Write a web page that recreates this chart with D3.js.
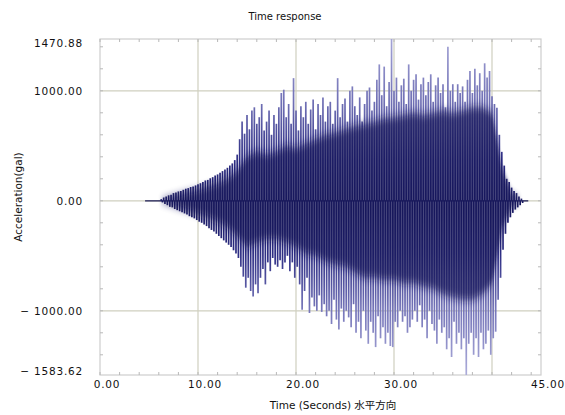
<!DOCTYPE html>
<html>
<head>
<meta charset="utf-8">
<script src="https://cdn.jsdelivr.net/npm/d3@7"></script>
<style>
  body { margin: 0; background: #fff; }
  text { font-family: "DejaVu Sans", sans-serif; fill: #111; }
</style>
</head>
<body>
<div id="chart"></div>
<script>
// time step of the peak samples (s) and first sample time
var peakStart = 6.25;
var peakStep = 0.25;

// positive peaks, one per 0.25 s from 6.25 s
var upPeaks = [
  15, 30, 40, 50,   55, 70, 75, 85,   90, 100, 110, 115,   125, 130, 140, 150,
  160, 170, 185, 190,   205, 215, 230, 240,   255, 270, 285, 300,   320, 340, 370, 420,
  560, 720, 610, 780,   650, 820, 850, 700,   760, 880, 640, 720,   820, 600, 780, 700,
  850, 980, 1010, 760,   880, 700, 1115, 820,   640, 860, 760, 900,   700, 830, 920, 650,
  880, 780, 940, 720,   860, 900, 700, 820,   1115, 760, 880, 930,   720, 1000, 1040, 860,
  780, 940, 720, 880,   1000, 1030, 820, 900,   1100, 1240, 960, 1220,   860, 1080, 1470.88, 1000,
  1120, 900, 1050, 1110,   880, 1240, 1000, 1100,   1150, 920, 1060, 1120,   960, 1080, 1150, 900,
  1050, 1120, 980, 1060,   850, 1400, 1000, 1060,   900, 1060, 980, 1040,   900, 1100, 1180, 980,
  1200, 1050, 1160, 1000,   1250, 1120, 1180, 950,   880, 845, 600, 445,   320, 200, 170, 120,
  90, 70, 40, 20
];

// negative peaks, half a step after each positive one
var downPeaks = [
  -15, -30, -40, -55,   -60, -75, -85, -95,   -105, -115, -125, -140,   -150, -160, -175, -190,
  -200, -215, -230, -250,   -265, -280, -300, -320,   -340, -360, -380, -400,   -420, -450, -480, -520,
  -600, -690, -790, -700,   -820, -870, -760, -840,   -700, -620, -760, -560,   -640, -520, -580, -600,
  -540, -620, -560, -500,   -640, -560, -700, -600,   -760, -990, -820, -700,   -1020, -880, -960, -1000,
  -860, -1010, -940, -1050,   -1000, -1120, -900, -1080,   -1170, -980, -1100, -1000,   -1060, -1150, -940, -1200,
  -1100, -1250, -1000, -1180,   -1300, -1100, -1200, -1330,   -1050, -1250, -1150, -1300,   -1200, -1320, -1330, -1100,
  -1150, -1000, -1100, -1050,   -1200, -1150, -1080, -1000,   -1100, -950, -1150, -1080,   -1250, -1000, -1120, -1180,
  -1300, -1080, -1200, -1150,   -1350, -1250, -1420, -1100,   -1300, -1200, -1350, -1250,   -1583.62, -1300, -1200, -1400,
  -1250, -1420, -1200, -1350,   -1300, -1180, -1400, -1250,   -1190, -900, -700, -445,   -300, -200, -150, -110,
  -80, -60, -40, -20
];

// dense dark core of the record, one value per second
var coreTimes = [6, 7, 8, 9, 10, 11, 12, 13, 14, 15, 16, 17, 18, 19, 20, 21, 22, 23, 24, 25,
  26, 27, 28, 29, 30, 31, 32, 33, 34, 35, 36, 37, 38, 39, 40, 41, 42, 43];
var coreTop = [0, 30, 55, 80, 100, 130, 160, 200, 270, 400, 450, 420, 450, 500, 480, 520, 560, 600, 620, 650,
  680, 700, 720, 750, 760, 780, 800, 780, 800, 820, 800, 820, 850, 850, 800, 300, 70, 0];
var coreBottom = [0, -30, -60, -90, -120, -150, -190, -240, -320, -420, -380, -350, -350, -380, -420, -480, -500, -550, -580, -600,
  -650, -700, -700, -720, -720, -750, -750, -780, -800, -850, -880, -900, -900, -850, -750, -250, -50, 0];

// quiet (near zero) part of the record
var quietStart = 4.6;
var quietEnd = 43.7;

var xLabels = [0, 10, 20, 30, 45];
var yLabels = [1470.88, 1000, 0, -1000, -1583.62];
var xGrid = [10, 20, 30, 40];
var yGrid = [1000, 0, -1000];
var xMinor = d3.range(0, 46, 2);
var yMinor = [-1400, -1200, -1000, -800, -600, -400, -200, 0, 200, 400, 600, 800, 1000, 1200, 1400];

function init() {
    var w = 565;
    var h = 415;
    var left = 100, right = 541, top = 39, bottom = 375;

    var x = d3.scaleLinear().domain([0, 45]).range([left, right]);
    var y = d3.scaleLinear().domain([-1583.62, 1470.88]).range([bottom, top]);

    var svg = d3.select("#chart")
        .append("svg")
        .attr("width", w)
        .attr("height", h);

    var defs = svg.append("defs");

    // gradient: light at the spike tips, dark near zero
    var grad = defs.append("linearGradient")
        .attr("id", "spk")
        .attr("gradientUnits", "userSpaceOnUse")
        .attr("x1", 0).attr("x2", 0)
        .attr("y1", top).attr("y2", bottom);
    [[0, "#a4a4d6"], [0.2, "#6c6cb2"], [0.36, "#2e2e84"], [0.5, "#1a1a60"],
     [0.64, "#2e2e84"], [0.8, "#7474b8"], [1, "#acacda"]].forEach(function (s) {
        grad.append("stop").attr("offset", s[0]).attr("stop-color", s[1]);
    });

    // soft edge for the dense core
    defs.append("filter")
        .attr("id", "soft")
        .attr("x", "-5%").attr("y", "-20%")
        .attr("width", "110%").attr("height", "140%")
        .append("feGaussianBlur")
        .attr("stdDeviation", "1 4");

    // grid
    svg.selectAll("line.vg")
        .data(xGrid)
        .enter()
        .append("line")
        .attr("x1", function (d) { return x(d); })
        .attr("x2", function (d) { return x(d); })
        .attr("y1", top).attr("y2", bottom)
        .attr("stroke", "#cfcfbf").attr("stroke-width", 1.2);

    svg.selectAll("line.hg")
        .data(yGrid)
        .enter()
        .append("line")
        .attr("x1", left).attr("x2", right)
        .attr("y1", function (d) { return y(d); })
        .attr("y2", function (d) { return y(d); })
        .attr("stroke", "#cfcfbf").attr("stroke-width", 1.2);

    // frame
    svg.append("rect")
        .attr("x", left).attr("y", top)
        .attr("width", right - left).attr("height", bottom - top)
        .attr("fill", "none").attr("stroke", "#cdcdcd").attr("stroke-width", 1.2);

    // minor ticks
    [top, bottom].forEach(function (edge, k) {
        svg.selectAll(null)
            .data(xMinor)
            .enter()
            .append("line")
            .attr("x1", function (d) { return x(d); })
            .attr("x2", function (d) { return x(d); })
            .attr("y1", edge)
            .attr("y2", k == 0 ? edge + 3 : edge - 3)
            .attr("stroke", "#b8b8b8");
    });
    [left, right].forEach(function (edge, k) {
        svg.selectAll(null)
            .data(yMinor)
            .enter()
            .append("line")
            .attr("y1", function (d) { return y(d); })
            .attr("y2", function (d) { return y(d); })
            .attr("x1", edge)
            .attr("x2", k == 0 ? edge + 3 : edge - 3)
            .attr("stroke", "#b8b8b8");
    });

    // quiet part
    svg.append("line")
        .attr("x1", x(quietStart)).attr("x2", x(quietEnd))
        .attr("y1", y(0)).attr("y2", y(0))
        .attr("stroke", "#1a1a55").attr("stroke-width", 1.2);

    // spikes
    svg.selectAll("line.up")
        .data(upPeaks)
        .enter()
        .append("line")
        .attr("x1", function (d, i) { return x(peakStart + i * peakStep); })
        .attr("x2", function (d, i) { return x(peakStart + i * peakStep); })
        .attr("y1", y(0))
        .attr("y2", function (d) { return y(d); })
        .attr("stroke", "url(#spk)")
        .attr("stroke-width", 1.7);

    svg.selectAll("line.down")
        .data(downPeaks)
        .enter()
        .append("line")
        .attr("x1", function (d, i) { return x(peakStart + (i + 0.5) * peakStep); })
        .attr("x2", function (d, i) { return x(peakStart + (i + 0.5) * peakStep); })
        .attr("y1", y(0))
        .attr("y2", function (d) { return y(d); })
        .attr("stroke", "url(#spk)")
        .attr("stroke-width", 1.7);

    // dark core
    var core = d3.area()
        .x(function (d, i) { return x(coreTimes[i]); })
        .y0(function (d, i) { return y(coreBottom[i]); })
        .y1(function (d, i) { return y(coreTop[i]); });

    svg.append("path")
        .datum(coreTimes)
        .attr("d", core)
        .attr("fill", "#18185a")
        .attr("opacity", 0.72)
        .attr("filter", "url(#soft)");

    // tick labels
    svg.selectAll("text.xl")
        .data(xLabels)
        .enter()
        .append("text")
        .text(function (d) { return d.toFixed(2); })
        .attr("x", function (d) { return x(d) + 7; })
        .attr("y", 388)
        .attr("text-anchor", "middle")
        .attr("font-size", 10.5)
        .attr("letter-spacing", 0.8);

    svg.selectAll("text.yl")
        .data(yLabels)
        .enter()
        .append("text")
        .text(function (d) { return (d < 0 ? "\u2212 " : "") + Math.abs(d).toFixed(2); })
        .attr("x", 83)
        .attr("y", function (d) {
            if (d == yLabels[0]) return y(d) + 8;
            if (d == yLabels[4]) return y(d);
            return y(d) + 4;
        })
        .attr("text-anchor", "end")
        .attr("font-size", 10.5)
        .attr("letter-spacing", 0.8);

    // titles
    svg.append("text")
        .text("Time response")
        .attr("x", 285).attr("y", 20)
        .attr("text-anchor", "middle")
        .attr("font-size", 10);

    svg.append("text")
        .text("Time (Seconds) 水平方向")
        .attr("x", 333).attr("y", 409)
        .attr("text-anchor", "middle")
        .attr("font-size", 10.5)
        .style("font-family", "'DejaVu Sans', 'Noto Sans CJK JP', sans-serif");

    svg.append("text")
        .text("Acceleration(gal)")
        .attr("transform", "translate(22,197) rotate(-90)")
        .attr("text-anchor", "middle")
        .attr("font-size", 10.5);
}

window.onload = init;
</script>
</body>
</html>
